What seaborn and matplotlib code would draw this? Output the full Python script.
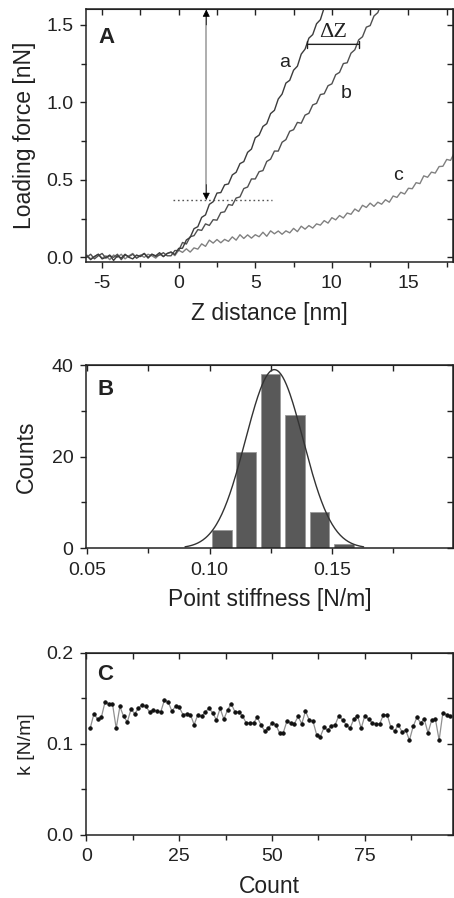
import numpy as np
import matplotlib
matplotlib.use('Agg')
import matplotlib.pyplot as plt
import seaborn as sns

sns.set_style('ticks')
plt.rcParams['font.family'] = ['Liberation Sans', 'DejaVu Sans']
plt.rcParams['axes.unicode_minus'] = False

# ---- panel A: force curves (0.25 nm grid) ----
z_a = np.arange(-6, 9.76, 0.25)
force_a = [0.01, -0.015, 0.005, 0.02, -0.01, 0.0, 0.015, -0.02, 0.01, -0.005, 0.02,
           0.0, -0.01, 0.015, 0.005, 0.025, -0.005, 0.02, 0.01, 0.03, 0.005, 0.025,
           0.035, 0.018, 0.058, 0.059, 0.112, 0.129, 0.185, 0.198, 0.258, 0.274,
           0.342, 0.359, 0.415, 0.418, 0.468, 0.474, 0.532, 0.549, 0.605, 0.618,
           0.678, 0.699, 0.772, 0.789, 0.845, 0.863, 0.928, 0.949, 1.022, 1.054,
           1.125, 1.143, 1.208, 1.234, 1.312, 1.344, 1.415, 1.438, 1.508, 1.534,
           1.612, 1.644]
z_b = np.arange(-6, 13.51, 0.25)
force_b = [0.0, 0.02, -0.01, 0.01, 0.025, -0.005, 0.01, 0.0, 0.02, -0.015, 0.015,
           0.005, 0.02, -0.005, 0.01, 0.025, 0.0, 0.02, 0.005, 0.015, 0.03, 0.01,
           0.010, 0.044, 0.044, 0.096, 0.086, 0.133, 0.140, 0.179, 0.174, 0.216,
           0.206, 0.243, 0.240, 0.289, 0.294, 0.341, 0.336, 0.383, 0.390, 0.444,
           0.454, 0.506, 0.506, 0.553, 0.560, 0.619, 0.634, 0.686, 0.686, 0.743,
           0.760, 0.814, 0.824, 0.871, 0.866, 0.918, 0.930, 0.984, 0.994, 1.051,
           1.056, 1.108, 1.120, 1.179, 1.194, 1.251, 1.256, 1.318, 1.340, 1.404,
           1.424, 1.486, 1.496, 1.558, 1.580, 1.644, 1.664]
z_c = np.arange(-6, 18.01, 0.25)
force_c = [0.015, -0.01, 0.005, 0.02, -0.005, 0.01, -0.015, 0.015, 0.0, 0.02, -0.01,
           0.01, 0.025, -0.005, 0.015, 0.0, 0.02, 0.01, -0.005, 0.02, 0.005, 0.025,
           0.032, 0.011, 0.046, 0.032, 0.055, 0.034, 0.061, 0.053, 0.087, 0.071,
           0.111, 0.092, 0.115, 0.094, 0.116, 0.103, 0.132, 0.111, 0.146, 0.122,
           0.145, 0.124, 0.146, 0.133, 0.162, 0.136, 0.171, 0.152, 0.170, 0.149,
           0.171, 0.158, 0.187, 0.166, 0.201, 0.182, 0.205, 0.189, 0.216, 0.208,
           0.237, 0.221, 0.256, 0.242, 0.270, 0.254, 0.286, 0.278, 0.312, 0.296,
           0.336, 0.322, 0.350, 0.329, 0.356, 0.343, 0.372, 0.356, 0.396, 0.387,
           0.420, 0.409, 0.446, 0.443, 0.482, 0.476, 0.526, 0.517, 0.550, 0.544,
           0.586, 0.588, 0.632, 0.626, 0.676]

# ---- panel B: stiffness histogram + gaussian fit ----
bin_centers = [0.105, 0.115, 0.125, 0.135, 0.145, 0.155]
counts = [4, 21, 38, 29, 8, 1]
fit_mean = 0.1265
fit_sigma = 0.0118
fit_amp = 39.0

# ---- panel C: k per measurement ----
k_values = [0.117, 0.133, 0.127, 0.129, 0.146, 0.144, 0.144, 0.117, 0.141, 0.130,
            0.124, 0.138, 0.133, 0.139, 0.143, 0.141, 0.135, 0.137, 0.136, 0.135,
            0.148, 0.146, 0.136, 0.141, 0.140, 0.132, 0.133, 0.132, 0.121, 0.132,
            0.130, 0.135, 0.139, 0.134, 0.126, 0.139, 0.127, 0.137, 0.144, 0.135,
            0.135, 0.131, 0.123, 0.123, 0.123, 0.129, 0.121, 0.114, 0.117, 0.123,
            0.121, 0.112, 0.112, 0.125, 0.123, 0.122, 0.130, 0.122, 0.136, 0.126,
            0.125, 0.110, 0.108, 0.118, 0.115, 0.120, 0.121, 0.131, 0.126, 0.121,
            0.117, 0.127, 0.131, 0.117, 0.131, 0.127, 0.123, 0.122, 0.122, 0.132,
            0.132, 0.118, 0.114, 0.121, 0.113, 0.115, 0.104, 0.119, 0.129, 0.123,
            0.127, 0.112, 0.126, 0.127, 0.104, 0.134, 0.132, 0.130]
count_idx = np.arange(1, len(k_values) + 1)

TICK = 14
LABEL = 16.5
ink = '#222222'


def style_axes(ax, xmaj, xmin, ymaj, ymin):
    for s in ax.spines.values():
        s.set_visible(True)
        s.set_color(ink)
        s.set_linewidth(1.1)
    ax.set_xticks(xmaj)
    ax.set_xticks(xmin, minor=True)
    ax.set_yticks(ymaj)
    ax.set_yticks(ymin, minor=True)
    ax.tick_params(which='both', direction='out', color=ink, width=1.0, labelsize=TICK,
                   labelcolor=ink, pad=5.5)
    ax.tick_params(which='major', length=4)
    ax.tick_params(which='minor', length=3.5)
    # mirrored inward ticks on top / right
    top = ax.secondary_xaxis('top')
    top.set_xticks(list(xmaj) + list(xmin))
    top.tick_params(direction='in', length=4, width=1.0, color=ink, labeltop=False)
    right = ax.secondary_yaxis('right')
    right.set_yticks(list(ymaj) + list(ymin))
    right.tick_params(direction='in', length=4, width=1.0, color=ink, labelright=False)


fig = plt.figure(figsize=(4.54, 8.98), dpi=100)

# ================= A =================
axA = fig.add_axes([0.1905, 0.7086, 0.807, 0.281])
sns.lineplot(x=z_c, y=force_c, ax=axA, color='#808080', lw=1.0)
sns.lineplot(x=z_b, y=force_b, ax=axA, color='#505050', lw=1.0)
sns.lineplot(x=z_a, y=force_a, ax=axA, color='#3c3c3c', lw=1.0)
axA.set_xlim(-6.02, 17.9)
axA.set_ylim(-0.028, 1.601)
style_axes(axA, [-5, 0, 5, 10, 15], [-2.5, 2.5, 7.5, 12.5, 17.5],
           [0.0, 0.5, 1.0, 1.5], [0.25, 0.75, 1.25])
axA.set_yticklabels(['0.0', '0.5', '1.0', '1.5'])
axA.set_xlabel('Z distance [nm]', fontsize=LABEL, color=ink, labelpad=7)
axA.set_ylabel('Loading force [nN]', fontsize=LABEL, color=ink, labelpad=7)

# double arrow + dotted level
axA.plot([1.8, 1.8], [0.40, 1.57], color='#a8a8a8', lw=1.3)
axA.annotate('', xy=(1.8, 1.60), xytext=(1.8, 1.50),
             arrowprops=dict(arrowstyle='-|>', color='black', lw=0.5,
                             mutation_scale=11, shrinkA=0, shrinkB=0))
axA.annotate('', xy=(1.8, 0.37), xytext=(1.8, 0.47),
             arrowprops=dict(arrowstyle='-|>', color='black', lw=0.5,
                             mutation_scale=11, shrinkA=0, shrinkB=0))
axA.plot([-0.4, 6.1], [0.37, 0.37], ls=(0, (1.2, 2.0)), color='#555555', lw=1.0)

# delta Z marker
axA.annotate('', xy=(8.4, 1.375), xytext=(11.75, 1.375),
             arrowprops=dict(arrowstyle='|-|', color=ink, lw=1.0,
                             mutation_scale=2.5, shrinkA=0, shrinkB=0))
axA.text(10.1, 1.45, '\u0394Z', fontsize=16, family=['Liberation Serif', 'DejaVu Serif'],
         ha='center', va='center', color=ink)
axA.text(6.9, 1.26, 'a', fontsize=14, ha='center', va='center', color=ink)
axA.text(10.9, 1.06, 'b', fontsize=14, ha='center', va='center', color=ink)
axA.text(14.35, 0.53, 'c', fontsize=14, ha='center', va='center', color=ink)
axA.text(0.033, 0.889, 'A', transform=axA.transAxes, fontsize=16, fontweight='bold',
         ha='left', va='center', color=ink)

# ================= B =================
axB = fig.add_axes([0.1905, 0.3894, 0.807, 0.2041])
sns.barplot(x=bin_centers, y=counts, ax=axB, native_scale=True, width=0.8,
            color='#595959', edgecolor='#9a9a9a', linewidth=0.6, saturation=1)
fit_x = np.linspace(0.09, 0.163, 200)
fit_y = fit_amp * np.exp(-0.5 * ((fit_x - fit_mean) / fit_sigma) ** 2)
sns.lineplot(x=fit_x, y=fit_y, ax=axB, color='#333333', lw=1.0)
axB.set_xlim(0.0497, 0.1995)
axB.set_ylim(0, 40)
style_axes(axB, [0.05, 0.10, 0.15], [0.075, 0.125, 0.175], [0, 20, 40], [10, 30])
axB.set_xticklabels(['0.05', '0.10', '0.15'])
axB.set_xlabel('Point stiffness [N/m]', fontsize=LABEL, color=ink, labelpad=7)
axB.set_ylabel('Counts', fontsize=LABEL, color=ink, labelpad=10)
axB.text(0.03, 0.869, 'B', transform=axB.transAxes, fontsize=16, fontweight='bold',
         ha='left', va='center', color=ink)

# ================= C =================
axC = fig.add_axes([0.1905, 0.0702, 0.807, 0.203])
sns.lineplot(x=count_idx, y=k_values, ax=axC, color='#909090', lw=0.9,
             marker='o', markersize=2.4, markerfacecolor='#111111',
             markeredgecolor='#111111')
axC.set_xlim(0, 98.7)
axC.set_ylim(0, 0.2)
style_axes(axC, [0, 25, 50, 75], [12.5, 37.5, 62.5, 87.5], [0.0, 0.1, 0.2], [0.05, 0.15])
axC.set_yticklabels(['0.0', '0.1', '0.2'])
axC.set_xlabel('Count', fontsize=LABEL, color=ink, labelpad=7)
axC.set_ylabel('k [N/m]', fontsize=14, color=ink, labelpad=8)
axC.text(0.03, 0.878, 'C', transform=axC.transAxes, fontsize=16, fontweight='bold',
         ha='left', va='center', color=ink)

fig.savefig('out.png', dpi=100)
